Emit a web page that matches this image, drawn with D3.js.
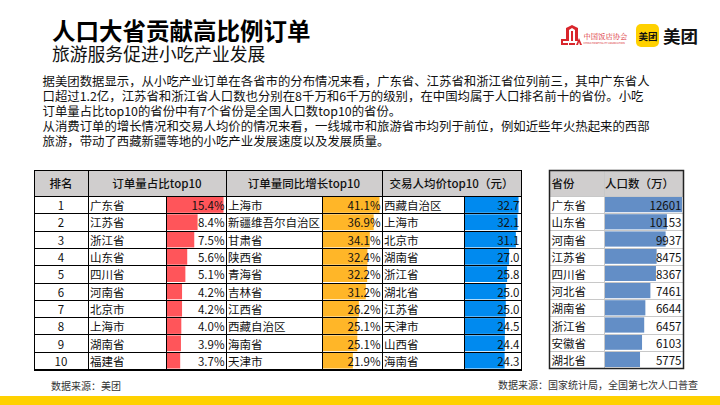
<!DOCTYPE html>
<html><head><meta charset="utf-8">
<script src="https://cdn.jsdelivr.net/npm/d3@7"></script>
<style>
html,body{margin:0;padding:0;background:#fff;}
svg{display:block;}
</style></head>
<body>
<svg id="c" width="720" height="405"></svg>
<script>
const ranks = [1,2,3,4,5,6,7,8,9,10];
const shareProvinces = ["广东省","江苏省","浙江省","山东省","四川省","河南省","北京市","上海市","湖南省","福建省"];
const shareValues = [15.4,8.4,7.5,5.6,5.1,4.2,4.2,4.0,3.9,3.7];
const growthProvinces = ["上海市","新疆维吾尔自治区","甘肃省","陕西省","青海省","吉林省","江西省","西藏自治区","海南省","天津市"];
const growthValues = [41.1,36.9,34.1,32.4,32.2,31.2,26.2,25.1,25.1,21.9];
const priceProvinces = ["西藏自治区","上海市","北京市","湖南省","浙江省","湖北省","江苏省","天津市","山西省","海南省"];
const priceValues = [32.7,32.1,31.1,27.0,25.8,25.0,25.0,24.5,24.4,24.3];
const popProvinces = ["广东省","山东省","河南省","江苏省","四川省","河北省","湖南省","浙江省","安徽省","湖北省"];
const popValues = [12601,10153,9937,8475,8367,7461,6644,6457,6103,5775];
const leftHeaders = ["排名","订单量占比top10","订单量同比增长top10","交易人均价top10（元）"];
const rightHeaders = ["省份","人口数（万）"];
const titleText = "人口大省贡献高比例订单";
const subtitleText = "旅游服务促进小吃产业发展";
const paragraph = [
 "据美团数据显示，从小吃产业订单在各省市的分布情况来看，广东省、江苏省和浙江省位列前三，其中广东省人",
 "口超过1.2亿，江苏省和浙江省人口数也分别在8千万和6千万的级别，在中国均属于人口排名前十的省份。小吃",
 "订单量占比top10的省份中有7个省份是全国人口数top10的省份。",
 "从消费订单的增长情况和交易人均价的情况来看，一线城市和旅游省市均列于前位，例如近些年火热起来的西部",
 "旅游，带动了西藏新疆等地的小吃产业发展速度以及发展质量。"
];
const sourceLeft = "数据来源：美团";
const sourceRight = "数据来源：国家统计局，全国第七次人口普查";

const FONT = "'Noto Sans CJK SC','Microsoft YaHei',sans-serif";
const svg = d3.select("#c").style("font-family", FONT);

// Title + subtitle (one text block)
const tt = svg.append("text").attr("dominant-baseline","central");
tt.append("tspan").attr("x",52).attr("y",29.5)
  .attr("font-size",23.5).attr("font-weight",700).attr("fill","#000").text(titleText);
tt.append("tspan").attr("x",52).attr("y",53)
  .attr("font-size",17.8).attr("fill","#111").text(subtitleText);

// Paragraph (one text block, one tspan per line)
const pY = d3.scaleLinear().domain([0,4]).range([81,141]);
svg.append("text").attr("dominant-baseline","central").attr("font-size",12.4).attr("fill","#111")
  .selectAll("tspan").data(paragraph).join("tspan")
  .attr("x",42.5).attr("y",(d,i)=>pY(i)).text(d=>d);

// ---- Left table ----
const colX = [34, 88, 166, 226, 322, 382, 464, 521];
const headTop = 170, headBot = 196, tableBot = 369;
const yL = d3.scaleBand().domain(d3.range(10)).range([headBot, tableBot]);
const gL = svg.append("g");

gL.append("rect").attr("x",colX[0]).attr("y",headTop).attr("width",colX[7]-colX[0]).attr("height",headBot-headTop).attr("fill","#D0CECE");

const bars = [
  {vals: shareValues, x0: colX[2], x1: colX[3], color:"#FF555A", fmt: v=>d3.format(".1f")(v)+"%"},
  {vals: growthValues, x0: colX[4], x1: colX[5], color:"#FFB628", fmt: v=>d3.format(".1f")(v)+"%"},
  {vals: priceValues, x0: colX[6], x1: colX[7], color:"#008AEF", fmt: v=>d3.format(".1f")(v)}
];
bars.forEach(b=>{
  const s = d3.scaleLinear().domain([0, d3.max(b.vals)]).range([0, b.x1-b.x0-3]);
  gL.append("g").selectAll("rect").data(b.vals).join("rect")
    .attr("x", b.x0+0.5).attr("y",(d,i)=>yL(i)+1).attr("width",d=>s(d)).attr("height",yL.bandwidth()-1.5)
    .attr("fill", b.color);
  gL.append("g").selectAll("text").data(b.vals).join("text")
    .attr("x", b.x1-1.5).attr("y",(d,i)=>yL(i)+yL.bandwidth()/2+0.5).attr("text-anchor","end")
    .attr("dominant-baseline","central").attr("font-size",11.5).attr("fill","#111").text(d=>b.fmt(d));
});

// rank
gL.append("g").selectAll("text").data(ranks).join("text")
  .attr("x",(colX[0]+colX[1])/2).attr("y",(d,i)=>yL(i)+yL.bandwidth()/2+0.5).attr("text-anchor","middle")
  .attr("dominant-baseline","central").attr("font-size",11.5).attr("fill","#111").text(d=>d);
[[shareProvinces,colX[1]],[growthProvinces,colX[3]],[priceProvinces,colX[5]]].forEach(([arr,x])=>{
  gL.append("g").selectAll("text").data(arr).join("text")
    .attr("x",x+2).attr("y",(d,i)=>yL(i)+yL.bandwidth()/2+0.5)
    .attr("dominant-baseline","central").attr("font-size",11.5).attr("fill","#111").text(d=>d);
});
// headers
const headCenters = [(colX[0]+colX[1])/2,(colX[1]+colX[3])/2,(colX[3]+colX[5])/2,(colX[5]+colX[7])/2];
gL.append("g").selectAll("text").data(leftHeaders).join("text")
  .attr("x",(d,i)=>headCenters[i]).attr("y",(headTop+headBot)/2).attr("text-anchor","middle")
  .attr("dominant-baseline","central").attr("font-size",11.5).attr("font-weight",500).attr("fill","#111").text(d=>d);

// grid lines
const lineG = gL.append("g").attr("stroke","#000").attr("stroke-width",1).attr("shape-rendering","crispEdges");
d3.range(11).forEach(i=>{
  const y = yL(i) ?? tableBot;
  lineG.append("line").attr("x1",colX[0]).attr("x2",colX[7]).attr("y1",y+0.5).attr("y2",y+0.5);
});
lineG.append("line").attr("x1",colX[0]).attr("x2",colX[7]).attr("y1",headTop+0.5).attr("y2",headTop+0.5);
[0,1,3,5,7].forEach(k=>{
  lineG.append("line").attr("x1",colX[k]+0.5).attr("x2",colX[k]+0.5).attr("y1",headTop).attr("y2",tableBot+1);
});
[2,4,6].forEach(k=>{
  lineG.append("line").attr("x1",colX[k]+0.5).attr("x2",colX[k]+0.5).attr("y1",headBot).attr("y2",tableBot+1);
});
lineG.append("line").attr("x1",colX[0]).attr("x2",colX[7]+1).attr("y1",tableBot+1.5).attr("y2",tableBot+1.5);

// ---- Right table ----
const rX = [549, 603.5, 683];
const rBot = 368;
const yR = d3.scaleBand().domain(d3.range(10)).range([headBot, rBot]);
const gR = svg.append("g");
gR.append("rect").attr("x",rX[0]).attr("y",headTop).attr("width",rX[2]-rX[0]).attr("height",headBot-headTop).attr("fill","#D0CECE");
const sPop = d3.scaleLinear().domain([0, d3.max(popValues)]).range([0, rX[2]-rX[1]-2]);
gR.append("g").selectAll("rect").data(popValues).join("rect")
  .attr("x",rX[1]+1).attr("y",(d,i)=>yR(i)+1).attr("width",d=>sPop(d)).attr("height",yR.bandwidth()-2)
  .attr("fill","#638EC6");
gR.append("g").selectAll("text").data(popValues).join("text")
  .attr("x",rX[2]-1.5).attr("y",(d,i)=>yR(i)+yR.bandwidth()/2+0.5).attr("text-anchor","end")
  .attr("dominant-baseline","central").attr("font-size",11.5).attr("fill","#111").text(d=>d);
gR.append("g").selectAll("text").data(popProvinces).join("text")
  .attr("x",rX[0]+2.5).attr("y",(d,i)=>yR(i)+yR.bandwidth()/2+0.5)
  .attr("dominant-baseline","central").attr("font-size",11.5).attr("fill","#111").text(d=>d);
gR.append("text").attr("x",rX[0]+2.5).attr("y",(headTop+headBot)/2).attr("dominant-baseline","central")
  .attr("font-size",11.5).attr("font-weight",500).attr("fill","#111").text(rightHeaders[0]);
gR.append("text").attr("x",rX[1]+1.5).attr("y",(headTop+headBot)/2).attr("dominant-baseline","central")
  .attr("font-size",11.5).attr("font-weight",500).attr("fill","#111").text(rightHeaders[1]);
const rl = gR.append("g").attr("stroke","#C8C8C8").attr("stroke-width",1).attr("shape-rendering","crispEdges");
d3.range(1,10).forEach(i=>{
  rl.append("line").attr("x1",rX[0]).attr("x2",rX[2]).attr("y1",yR(i)+0.5).attr("y2",yR(i)+0.5);
});
rl.append("line").attr("x1",rX[0]).attr("x2",rX[2]).attr("y1",headBot+0.5).attr("y2",headBot+0.5);
rl.append("line").attr("x1",rX[1]+0.5).attr("x2",rX[1]+0.5).attr("y1",headTop).attr("y2",rBot);
gR.append("rect").attr("x",rX[0]+0.5).attr("y",headTop+0.5).attr("width",rX[2]-rX[0]).attr("height",rBot-headTop)
  .attr("fill","none").attr("stroke","#222").attr("stroke-width",1.5);

// sources
svg.append("text").attr("x",51).attr("y",385).attr("dominant-baseline","central")
  .attr("font-size",10).attr("fill","#333").text(sourceLeft);
svg.append("text").attr("x",698).attr("y",384).attr("text-anchor","end").attr("dominant-baseline","central")
  .attr("font-size",10).attr("fill","#333").text(sourceRight);

// bottom stripe
svg.append("rect").attr("x",0).attr("y",396).attr("width",720).attr("height",9).attr("fill","#FFD100");

// ---- Logos ----
const lg = svg.append("g");
const red = "#D9262C";
lg.append("path").attr("d","M566 28 L572 25 L578 28 L578 41 L575 41 L575 30 L572 28 L569 30 L569 41 L566 41 Z").attr("fill",red);
lg.append("rect").attr("x",571).attr("y",31).attr("width",2).attr("height",10).attr("fill",red);
lg.append("path").attr("d","M561 45 L561 39 L568 39 L568 41 L563 41 L563 43 L568 43 L568 45 Z").attr("fill",red);
lg.append("path").attr("d","M576 45 L579 38 L582 45 L580 45 L579 42 L578 45 Z").attr("fill",red);
lg.append("rect").attr("x",569).attr("y",43).attr("width",6).attr("height",2).attr("fill",red);
const lt = lg.append("text").attr("fill",red).attr("dominant-baseline","central");
lt.append("tspan").attr("x",583.5).attr("y",35.5)
  .attr("font-size",7.3).attr("font-family","'Noto Serif CJK SC','Noto Sans CJK SC',serif").text("中国饭店协会");
lt.append("tspan").attr("x",583.5).attr("y",43.2)
  .attr("font-size",2.6).text("CHINA HOSPITALITY ASSOCIATION");
lg.append("rect").attr("x",636).attr("y",24).attr("width",23).attr("height",23).attr("rx",5).attr("fill","#FFD100");
const mt = lg.append("text").attr("dominant-baseline","central").attr("font-weight",700).attr("fill","#111");
mt.append("tspan").attr("x",638.5).attr("y",35.5).attr("font-size",9.5).text("美团");
mt.append("tspan").attr("x",663).attr("y",35).attr("font-size",17.5).text("美团");
</script>
</body></html>
